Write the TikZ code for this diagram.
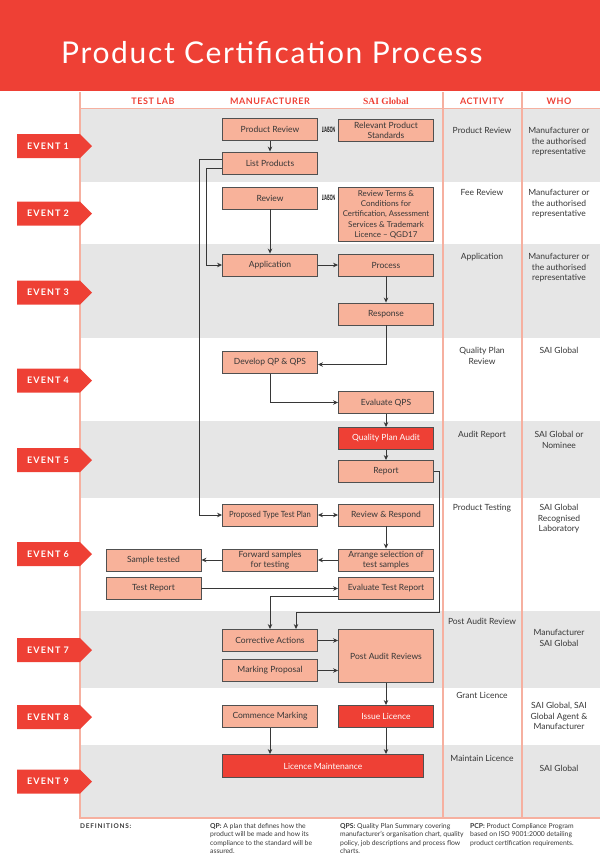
\documentclass[tikz,border=0pt]{standalone}
\usepackage{fontspec}
\setmainfont{Lato}
\newfontfamily\hdserif{Liberation Serif}
\usetikzlibrary{arrows.meta}
\definecolor{myred}{RGB}{238,64,53}
\definecolor{salmon}{RGB}{248,178,154}
\definecolor{bandgray}{RGB}{230,230,230}
\definecolor{colline}{RGB}{246,176,160}
\definecolor{boxline}{RGB}{80,80,80}
\definecolor{linegray}{RGB}{55,55,55}
\definecolor{txt}{RGB}{55,55,55}
\newcommand\myboxfont{\fontsize{8.5}{10}\selectfont}
\newcommand\mycolfont{\fontsize{8.5}{10.4}\selectfont}
\newcommand\mydeffont{\fontsize{6.8}{8.2}\selectfont}
\begin{document}
\begin{tikzpicture}[x=1pt,y=-1pt,
  box/.style={draw=boxline, fill=salmon, line width=0.9pt, minimum width=95pt, minimum height=22pt, inner sep=1pt, text=txt, font=\myboxfont, align=center},
  redbox/.style={box, fill=myred, text=white},
  arr/.style={draw=linegray, line width=0.8pt, -{Stealth[length=5pt,width=4.5pt]}},
  dblarr/.style={draw=linegray, line width=0.8pt, {Stealth[length=5pt,width=4.5pt]}-{Stealth[length=5pt,width=4.5pt]}},
  colhd/.style={text=myred, font=\fontsize{9}{9}\selectfont\bfseries\addfontfeature{LetterSpace=6}, inner sep=0pt},
  act/.style={anchor=north, inner sep=0pt, font=\mycolfont, text=txt, align=center},
  evtext/.style={anchor=west, text=white, inner sep=0pt, font=\fontsize{9}{9}\selectfont\bfseries\addfontfeature{LetterSpace=12}},
  liaison/.style={inner sep=0pt, text=black, font=\fontsize{7.5}{7.5}\selectfont\bfseries},
  defn/.style={anchor=north west, inner sep=0pt, font=\mydeffont, text=txt, align=left}
]
\useasboundingbox (0,0) rectangle (600,862);
% title bar
\fill[myred] (0,0) rectangle (600,91);
\node[anchor=base west, inner sep=0pt, text=white, font=\fontsize{30}{30}\selectfont\addfontfeature{LetterSpace=5.5}] (title) at (61,63) {Product Certification Process};
% bands
\fill[bandgray] (80,109) rectangle (600,182);
\fill[bandgray] (80,244) rectangle (600,338);
\fill[bandgray] (80,421) rectangle (600,498);
\fill[bandgray] (80,611) rectangle (600,688);
\fill[bandgray] (80,745) rectangle (600,818);
% grid lines
\draw[colline, line width=0.8pt] (80,108.5) -- (600,108.5);
\draw[colline, line width=1.5pt] (80,92) -- (80,818.5);
\draw[colline, line width=1.2pt] (443,92) -- (443,818);
\draw[colline, line width=1.2pt] (522,92) -- (522,818);
\draw[colline, line width=1.5pt] (80,818) -- (600,818);
% column headers
\node[colhd] (hlab) at (153,101) {TEST LAB};
\node[colhd] (hman) at (270,101) {MANUFACTURER};
\node[colhd, font=\fontsize{9.5}{9.5}\selectfont\hdserif\bfseries] (hsai) at (386,101) {SAI Global};
\node[colhd] (hact) at (482,101) {ACTIVITY};
\node[colhd] (hwho) at (559,101) {WHO};
% event tags
\foreach \n/\yy in {1/146,2/213.5,3/292.5,4/380.5,5/460,6/554,7/650,8/717,9/781.5}{
  \fill[myred] (17,\yy-12) -- (80,\yy-12) -- (92,\yy) -- (80,\yy+12) -- (17,\yy+12) -- cycle;
  \node[evtext] (ev\n) at (27,\yy) {EVENT \n};
}
% boxes
\node[box] (pr) at (270,129.5) {Product Review};
\node[box] (rps) at (386,130) {Relevant Product\\Standards};
\node[box] (lp) at (270,163) {List Products};
\node[box] (rev) at (270,198) {Review};
\node[box, minimum height=54pt, font=\fontsize{8}{10.3}\selectfont] (rtc) at (386,214.5) {Review Terms \&\\Conditions for\\\scalebox{0.97}[1]{Certification, Assessment}\\Services \& Trademark\\Licence -- QGD17};
\node[liaison] (l1) at (328.5,129.5) {\scalebox{0.45}[1]{LIAISON}};
\node[liaison] (l2) at (328.5,198) {\scalebox{0.45}[1]{LIAISON}};
\node[box] (app) at (270,265) {Application};
\node[box] (proc) at (386,265) {Process};
\node[box] (resp) at (386,314) {Response};
\node[box] (dev) at (270,362.5) {Develop QP \& QPS};
\node[box] (evq) at (386,402.5) {Evaluate QPS};
\node[redbox] (qpa) at (386,438.5) {Quality Plan Audit};
\node[box] (rep) at (386,471.5) {Report};
\node[box] (ptt) at (270,515) {\scalebox{0.9}[1]{Proposed Type Test Plan}};
\node[box] (rr) at (386,515) {Review \& Respond};
\node[box] (fws) at (270,560) {Forward samples\\for testing};
\node[box] (ars) at (386,560) {Arrange selection of\\test samples};
\node[box] (st) at (153.5,560) {Sample tested};
\node[box] (tr) at (153.5,588.5) {Test Report};
\node[box] (etr) at (386,588.5) {Evaluate Test Report};
\node[box] (ca) at (270,640.5) {Corrective Actions};
\node[box] (mp) at (270,670.5) {Marking Proposal};
\node[box, minimum height=53pt] (par) at (386,656) {Post Audit Reviews};
\node[box] (cm) at (270,716.5) {Commence Marking};
\node[redbox] (il) at (386,716.5) {Issue Licence};
\node[redbox, minimum width=201pt, minimum height=23pt] (lm) at (323,766) {Licence Maintenance};
% connectors
\draw[arr] (pr) -- (lp);
\draw[arr] ([yshift=4pt]lp.west) -- ++(-23,0) |- (ptt.west);
\draw[arr] ([yshift=-5pt]lp.west) -- ++(-16,0) |- (app.west);
\draw[arr] (rev) -- (app);
\draw[arr] (app) -- (proc);
\draw[arr] (proc) -- (resp);
\draw[arr] (resp.south) |- ([yshift=-2pt]dev.east);
\draw[arr] (dev.south) |- (evq.west);
\draw[arr] (evq) -- (qpa);
\draw[arr] (qpa) -- (rep);
\draw[arr] (rep.east) -- ++(5,0) -- ++(0,141) -| ([xshift=26pt]ca.north);
\draw[dblarr] (ptt) -- (rr);
\draw[arr] (rr) -- (ars);
\draw[arr] (ars) -- (fws);
\draw[arr] (fws) -- (st);
\draw[arr] (tr) -- (etr);
\draw[arr] ([yshift=-7.5pt]etr.west) -| (ca.north);
\draw[arr] (ca.east) -- (ca.east -| par.west);
\draw[arr] (mp.east) -- (mp.east -| par.west);
\draw[arr] (par) -- (il);
\draw[arr] (il) -- (il |- lm.north);
\draw[arr] (cm) -- (cm |- lm.north);
% activity column
\node[act] (a1) at (482,127.5) {Product Review};
\node[act] (a2) at (482,189.5) {Fee Review};
\node[act] (a3) at (482,253.5) {Application};
\node[act] (a4) at (482,347.5) {Quality Plan\\Review};
\node[act] (a5) at (482,431) {Audit Report};
\node[act] (a6) at (482,504.5) {Product Testing};
\node[act] (a7) at (482,618.5) {Post Audit Review};
\node[act] (a8) at (482,692.5) {Grant Licence};
\node[act] (a9) at (482,755.5) {Maintain Licence};
% who column
\node[act] (w1) at (559,127.5) {Manufacturer or\\the authorised\\representative};
\node[act] (w2) at (559,189.5) {Manufacturer or\\the authorised\\representative};
\node[act] (w3) at (559,253.5) {Manufacturer or\\the authorised\\representative};
\node[act] (w4) at (559,347.5) {SAI Global};
\node[act] (w5) at (559,431.5) {SAI Global or\\Nominee};
\node[act] (w6) at (559,504.5) {SAI Global\\Recognised\\Laboratory};
\node[act] (w7) at (559,629.5) {Manufacturer\\SAI Global};
\node[act] (w8) at (559,702.5) {SAI Global, SAI\\Global Agent \&\\Manufacturer};
\node[act] (w9) at (559,765.5) {SAI Global};
% definitions
\node[anchor=west, inner sep=0pt, text=txt, font=\fontsize{6.5}{6.5}\selectfont\bfseries\addfontfeature{LetterSpace=12}] (defs) at (80,826.5) {DEFINITIONS:};
\node[defn] (dqp) at (210,823.5) {\textbf{QP:} A plan that defines how the\\product will be made and how its\\compliance to the standard will be\\assured.};
\node[defn] (dqps) at (340,823.5) {\textbf{QPS:} Quality Plan Summary covering\\manufacturer’s organisation chart, quality\\policy, job descriptions and process flow\\charts.};
\node[defn] (dpcp) at (470,823.5) {\textbf{PCP:} Product Compliance Program\\based on ISO 9001:2000 detailing\\product certification requirements.};
\end{tikzpicture}
\end{document}
